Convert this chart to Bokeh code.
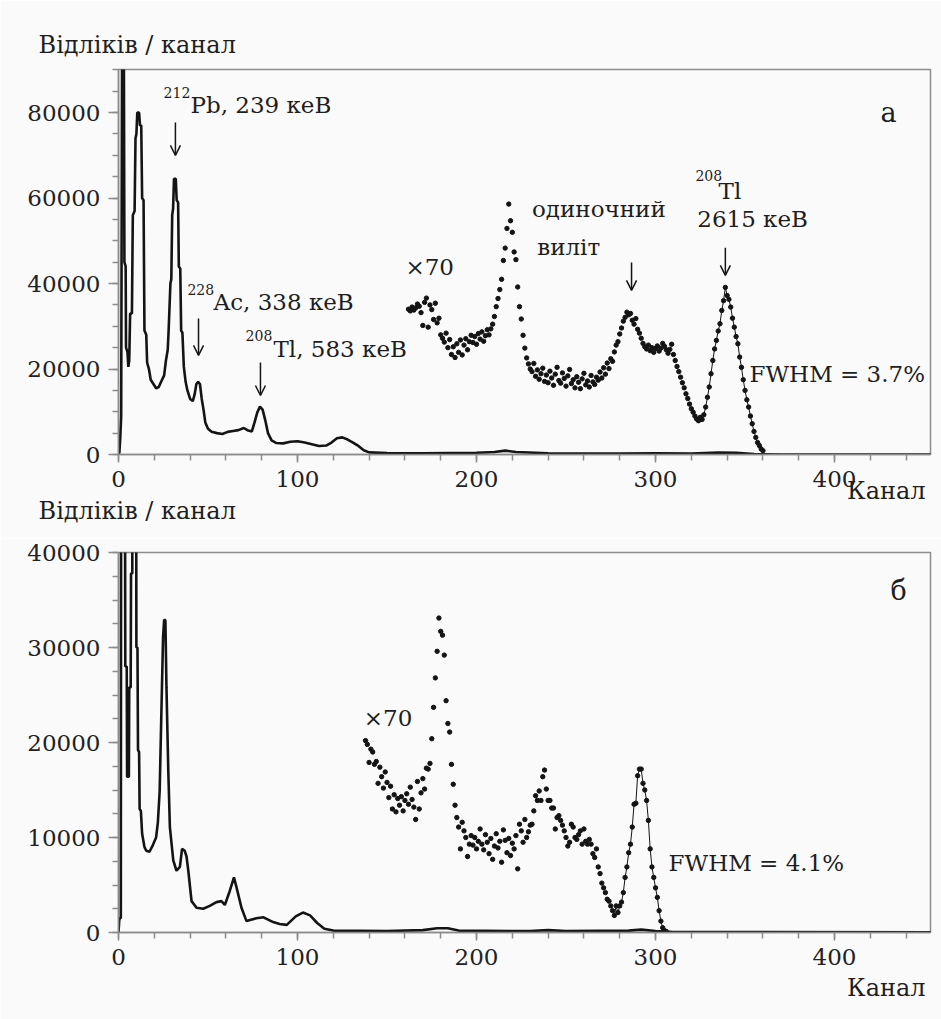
from bokeh.plotting import figure
from bokeh.layouts import column
from bokeh.models import Range1d, Label, Arrow, OpenHead, FixedTicker, Title
from bokeh.embed import file_html
from bokeh.resources import INLINE

# ---------------- data: panel (а) ----------------
top_line_ch = [0, 0.5, 1, 1.5, 2, 3, 3.3, 4, 4.2, 5, 5.5, 6, 6.5, 7.5, 8, 9, 9.5, 10, 10.5, 11.5,
               12, 12.7, 13.2, 14, 14.5, 15.5, 16, 17, 18, 19.5, 21, 22.5, 24, 25.5, 26.5, 27.5,
               28, 29, 29.5, 30, 30.5, 31, 32, 32.5, 33.3, 33.7, 34.5, 35, 35.7, 36.5, 37.5, 38.5,
               40, 41.5, 42.5, 43.5, 44.5, 45.5, 46.5, 47.5, 48.5, 50, 52, 55, 58, 61, 64, 67, 70,
               72, 74.5, 76, 77.5, 79, 80.5, 82, 83.5, 85.5, 88, 92, 96, 100, 104, 108, 112, 116,
               119, 122, 125, 128, 131, 134, 137, 140, 150, 170, 200, 210, 216, 222, 240, 280,
               300, 320, 335, 345, 355, 370, 454]
top_line_counts = [0, 500, 4000, 9000, 95000, 95000, 45000, 44000, 25000, 24000, 20500, 22000,
                   33000, 33000, 56000, 57000, 74000, 75000, 80000, 80000, 77000, 77000, 60000,
                   59500, 29000, 28000, 21500, 20000, 17500, 16500, 15500, 15800, 17200, 18500,
                   22000, 24500, 29000, 40000, 41000, 56000, 57500, 64500, 64500, 59500, 59000,
                   44000, 43500, 29000, 28500, 20500, 17000, 15000, 13000, 12500, 14000, 16500,
                   17000, 16500, 13000, 10500, 7500, 6000, 5300, 5000, 4800, 5300, 5500, 5700,
                   6200, 5700, 5400, 7500, 9800, 11200, 10500, 8000, 5000, 3300, 2700, 2600, 3000,
                   3100, 2800, 2400, 2000, 2100, 2800, 3800, 4000, 3500, 2800, 2000, 1000, 500,
                   350, 300, 400, 600, 900, 600, 300, 250, 300, 250, 450, 400, 100, 0, 0]

top_x70_ch = list(range(162, 361))
top_x70_counts = [
    34000, 33600, 34500, 33800, 34300, 35200, 34700, 33200, 30200, 35600,   # 162-171
    36600, 29800, 35000, 33900, 31600, 35400, 30800, 31900, 28000, 27200,   # 172-181
    26300, 28400, 25000, 26900, 23400, 25200, 22700, 25900, 23900, 26800,   # 182-191
    23300, 25600, 27100, 24500, 26400, 27900, 26200, 27600, 25800, 28300,   # 192-201
    27000, 28700, 26500, 27800, 29200, 28000, 29400, 30500, 32300, 34600,   # 202-211
    36500, 38600, 41000, 45400, 48300, 52900, 58600, 54700, 52000, 47400,   # 212-221
    45600, 39200, 34600, 31700, 27900, 24900, 22600, 21200, 20000, 19400,   # 222-231
    21300, 18300, 19800, 17600, 18900, 20200, 17100, 18600, 16800, 19500,   # 232-241
    17900, 16200, 18800, 20400, 17300, 16700, 19100, 17800, 16000, 18400,   # 242-251
    19900, 16600, 17500, 15600, 18200, 16900, 15400, 17700, 19000, 16300,   # 252-261
    17200, 15800, 18500, 17000, 16400, 18100, 17400, 19300, 17900, 20300,   # 262-271
    18800, 21400, 20100, 22400, 21800, 24000, 25600, 26400, 28200, 29600,   # 272-281
    31200, 32100, 33300, 32700, 33000, 31400, 30500, 31800, 29300, 28400,   # 282-291
    27200, 26000, 25200, 24700, 25600, 24300, 25000, 23900, 24800, 25400,   # 292-301
    24200, 24900, 26000, 25300, 24500, 23700, 24600, 25800, 23400, 22000,   # 302-311
    20600, 19400, 18100, 16800, 15600, 14200, 13100, 11800, 10700, 9900,    # 312-321
    9000, 8300, 7900, 8700, 8200, 9300, 11100, 13400, 15800, 18900,         # 322-331
    22000, 24700, 26700, 28900, 30600, 33700, 36000, 39100, 37200, 36300,   # 332-341
    34500, 31900, 29800, 27600, 25900, 22800, 20400, 17500, 15000, 12800,   # 342-351
    11100, 9000, 7200, 5400, 4000, 2800, 2100, 1300, 900,                   # 352-360
]

# ---------------- data: panel (б) ----------------
bot_line_ch = [0, 0.5, 1.3, 1.5, 3.5, 3.8, 4.6, 4.8, 5.8, 6, 6.8, 7, 7.7, 8, 9.7, 10, 10.6, 10.9,
               11.5, 11.8, 12.5, 13.2, 14.5, 15.5, 17.3, 19.2, 21, 22, 23, 23.9, 24.9, 25.5,
               26.2, 26.8, 27.8, 28.7, 30.6, 32.4, 34.3, 35.5, 37, 38, 39, 40.8, 43.6, 47.3,
               51, 54.7, 57.5, 59.4, 62.2, 64.5, 66, 68.7, 71.5, 77, 81, 86.4, 90, 94, 99,
               103, 107, 111, 115, 120, 150, 170, 178, 184, 190, 230, 240, 250, 285, 292,
               300, 310, 454]
bot_line_counts = [0, 1500, 1500, 60000, 60000, 28000, 28000, 16400, 16400, 25800, 25800,
                   37800, 37800, 70000, 70000, 30000, 30000, 19200, 19000, 13000, 12800, 10400,
                   9000, 8600, 8500, 9200, 10000, 11600, 14900, 22700, 31100, 32900, 32900,
                   25800, 17100, 11100, 7600, 6500, 6900, 8800, 8600, 8000, 6500, 3300, 2600,
                   2500, 2800, 3200, 3300, 2900, 4400, 5800, 4700, 2600, 1200, 1500, 1600, 1100,
                   900, 800, 1700, 2100, 1800, 1000, 400, 200, 150, 250, 450, 450, 200, 150,
                   250, 150, 200, 300, 150, 50, 30]

bot_x70_ch = list(range(138, 307))
bot_x70_counts = [
    20200, 19800, 17900, 19300, 19000, 17700, 18000, 15700, 17400, 16400,   # 138-147
    15200, 16900, 15800, 14200, 15400, 13000, 14500, 12700, 14100, 13400,   # 148-157
    14300, 12800, 13900, 14600, 13500, 15300, 14000, 13200, 11900, 15900,   # 158-167
    13000, 14700, 16200, 15100, 17300, 17200, 17800, 20400, 23700, 26800,   # 168-177
    29600, 33100, 31700, 31300, 29200, 24400, 22000, 21100, 17700, 15600,   # 178-187
    13400, 12100, 11100, 8800, 11600, 10700, 10000, 8000, 9300, 10200,      # 188-197
    9200, 10000, 8800, 9600, 10900, 9300, 8700, 10300, 9500, 8300,          # 198-207
    9900, 7700, 9100, 10400, 8900, 9600, 7400, 10800, 9700, 8400,           # 208-217
    9900, 8100, 9400, 8800, 10200, 6700, 11400, 10700, 9500, 11900,         # 218-227
    10000, 10600, 11300, 11400, 12800, 14400, 13900, 14900, 13900, 16400,   # 228-237
    17100, 15100, 13900, 13900, 13100, 13100, 10900, 12100, 12300, 11800,   # 238-247
    11300, 10700, 10000, 9100, 9500, 11400, 11100, 10000, 9800, 10300,      # 248-257
    10700, 9300, 10900, 9600, 9300, 9800, 9300, 8300, 7900, 8800,           # 258-267
    6900, 6200, 5200, 4700, 4200, 3500, 3300, 2800, 2300, 1800,             # 268-277
    2800, 2100, 2800, 3200, 4200, 5800, 6900, 8400, 9300, 11100,            # 278-287
    13500, 13600, 16500, 17200, 17200, 15700, 15000, 13900, 11800, 8800,    # 288-297
    6900, 5800, 4700, 3700, 2300, 1200, 500, 200, 100,                      # 298-306
]

x_ticks = [0, 100, 200, 300, 400]
top_y_ticks = [0, 20000, 40000, 60000, 80000]
bot_y_ticks = [0, 10000, 20000, 30000, 40000]

FONT = "DejaVu Serif"
INK = "#141414"
TXT = "#1e1e1e"
FRAME = "#8c8c8c"
BG = "#fafafa"


def make_fig(height, ymax, yticks, yminor, top_border, bottom_border):
    p = figure(width=941, height=height, output_backend="svg", toolbar_location=None,
               x_range=Range1d(0, 453.6), y_range=Range1d(0, ymax),
               min_border_left=118, min_border_right=11, min_border_top=top_border,
               min_border_bottom=bottom_border)
    p.background_fill_color = BG
    p.border_fill_color = BG
    p.outline_line_color = FRAME
    p.outline_line_width = 1.5
    p.grid.visible = False
    p.xaxis.ticker = FixedTicker(ticks=x_ticks, minor_ticks=list(range(0, 460, 20)))
    p.yaxis.ticker = FixedTicker(ticks=yticks, minor_ticks=yminor)
    for ax in (p.xaxis[0], p.yaxis[0]):
        ax.axis_line_color = FRAME
        ax.axis_line_width = 1.5
        ax.major_tick_line_color = FRAME
        ax.minor_tick_line_color = FRAME
        ax.major_tick_line_width = 1.5
        ax.minor_tick_line_width = 1.5
        ax.major_tick_in = 0
        ax.minor_tick_in = 0
        ax.major_tick_out = 10
        ax.minor_tick_out = 6
        ax.major_label_text_font = FONT
        ax.major_label_text_font_size = "23px"
        ax.major_label_text_color = "#222222"
        ax.major_label_standoff = 8
    p.xaxis.major_tick_out = 8
    return p


def add_title(p, text, side, align, offset, standoff):
    p.add_layout(Title(text=text, align=align, offset=offset, standoff=standoff,
                       text_font=FONT, text_font_size="24px", text_font_style="normal",
                       text_color=TXT), side)


def add_label(p, x, y, text, size="23px", align="left"):
    p.add_layout(Label(x=x, y=y, text=text, text_font=FONT, text_font_size=size,
                       text_color=TXT, text_align=align, text_baseline="alphabetic"))


def add_arrow(p, x, y0, y1):
    p.add_layout(Arrow(end=OpenHead(size=10, line_width=1.5, line_color=INK),
                       x_start=x, y_start=y0, x_end=x, y_end=y1,
                       line_width=1.5, line_color=INK))


YLABEL = "Відліків / канал"
XLABEL = "Канал"

# ---------------- panel (а) ----------------
p1 = make_fig(538, 90090, top_y_ticks, list(range(0, 90001, 5000)), 69, 84)
add_title(p1, YLABEL, "above", "left", -80, 22)
add_title(p1, XLABEL, "below", "right", 5, -31)
# y-axis caption of panel (б) sits in the gap between the two panels
add_title(p1, YLABEL, "below", "left", -80, 11)
p1.line(top_line_ch, top_line_counts, line_color=INK, line_width=2.6)
fit1 = [(c, v) for c, v in zip(top_x70_ch, top_x70_counts) if c >= 326]
p1.line([c for c, v in fit1], [v for c, v in fit1], line_color=INK, line_width=1)
p1.scatter(top_x70_ch, top_x70_counts, size=4.4, color=INK)

add_label(p1, 25.2, 84700, "212", "14px")
add_label(p1, 40.2, 81700, "Pb, 239 кеВ")
add_label(p1, 38.5, 38600, "228", "14px")
add_label(p1, 53.1, 35600, "Ac, 338 кеВ")
add_label(p1, 71.0, 27900, "208", "14px")
add_label(p1, 86.6, 24600, "Tl, 583 кеВ")
add_label(p1, 160.3, 43800, "×70")
add_label(p1, 231.0, 57400, "одиночний")
add_label(p1, 233.9, 48500, "виліт")
add_label(p1, 322.3, 65300, "208", "14px")
add_label(p1, 335.2, 61700, "Tl")
add_label(p1, 323.3, 55100, "2615 кеВ")
add_label(p1, 352.5, 18800, "FWHM = 3.7%")
add_label(p1, 425.7, 80000, "а", "27px")
add_arrow(p1, 31.8, 77700, 70000)
add_arrow(p1, 44.7, 31800, 23200)
add_arrow(p1, 79.3, 21500, 13800)
add_arrow(p1, 286.6, 44900, 38400)
add_arrow(p1, 339.0, 48400, 41900)

# ---------------- panel (б) ----------------
p2 = make_fig(481, 40000, bot_y_ticks, list(range(0, 40001, 2500)), 14, 87)
add_title(p2, XLABEL, "below", "right", 5, 9)
p2.line(bot_line_ch, bot_line_counts, line_color=INK, line_width=2.6)
fit2 = [(c, v) for c, v in zip(bot_x70_ch, bot_x70_counts) if c >= 277]
p2.line([c for c, v in fit2], [v for c, v in fit2], line_color=INK, line_width=1)
p2.scatter(bot_x70_ch, bot_x70_counts, size=4.4, color=INK)

add_label(p2, 137.0, 22600, "×70")
add_label(p2, 307.3, 7300, "FWHM = 4.1%")
add_label(p2, 431.3, 36000, "б", "27px")

layout = column(p1, p2, spacing=0)
open("out.html", "w").write(file_html(layout, INLINE))
